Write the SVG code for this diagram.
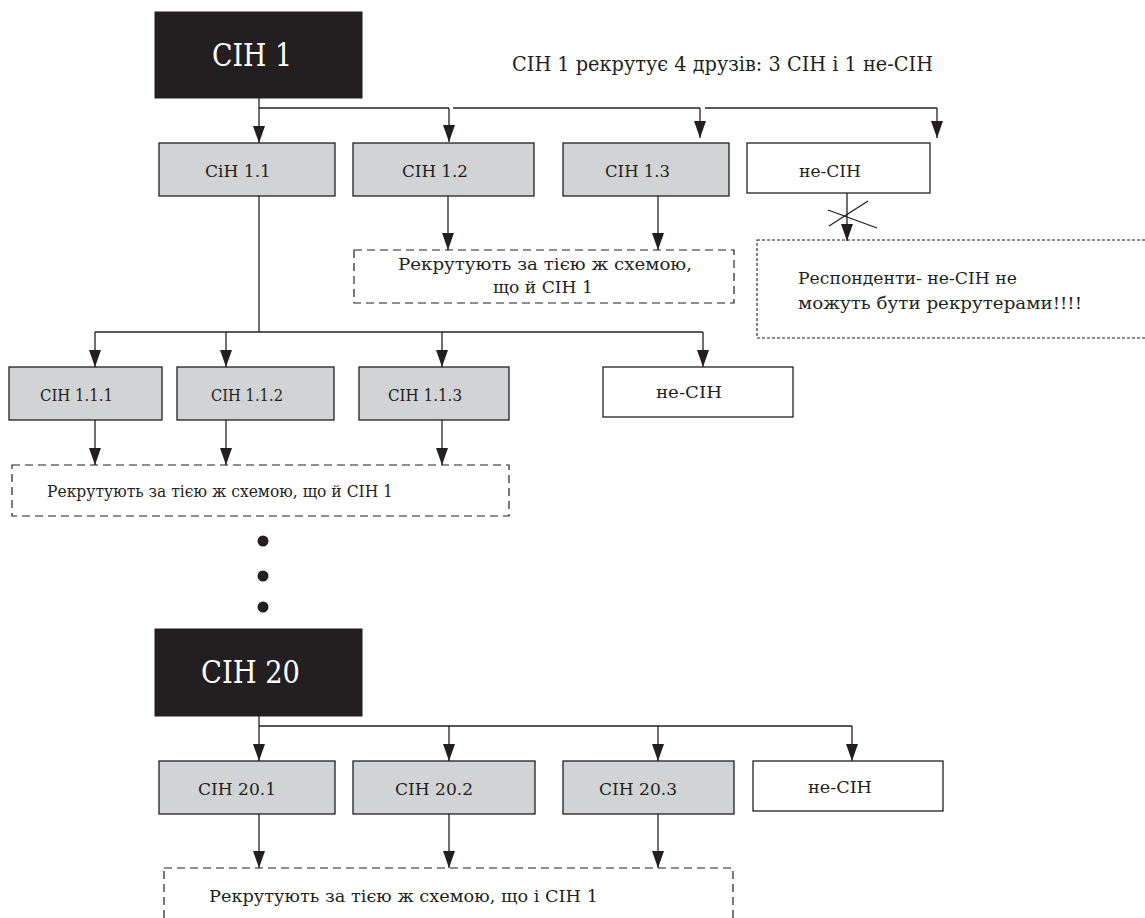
<svg xmlns="http://www.w3.org/2000/svg" width="1145" height="918" viewBox="0 0 1145 918">
<defs>
<marker id="ah" markerUnits="userSpaceOnUse" markerWidth="17" markerHeight="12" refX="17" refY="6" orient="auto">
<path d="M0,0 L17,6 L0,12 Z" fill="#231f20"/>
</marker>
<style>
text{font-family:"DejaVu Serif","Liberation Serif",serif;fill:#231f20}
.lbl{font-size:17.5px}
.big{font-size:32px;fill:#ffffff}
.note{font-size:21px}
.dark{fill:#231f20;stroke:#231f20}
.grey{fill:#d1d3d4;stroke:#231f20;stroke-width:1.3}
.white{fill:#ffffff;stroke:#231f20;stroke-width:1.3}
.dash{fill:none;stroke:#231f20;stroke-width:1.2;stroke-dasharray:8 5}
.dots{fill:none;stroke:#231f20;stroke-width:1.1;stroke-dasharray:3 2}
.c line,.c path{stroke:#231f20;stroke-width:1.3;fill:none}
</style>
</defs>
<rect width="1145" height="918" fill="#ffffff"/>

<g class="c" id="connectors">
<line x1="259" y1="98" x2="259" y2="108"/>
<line x1="259" y1="108" x2="449" y2="108"/>
<line x1="453" y1="108" x2="700" y2="108"/>
<line x1="705" y1="108" x2="937" y2="108"/>
<line x1="259" y1="108" x2="259" y2="143" marker-end="url(#ah)"/>
<line x1="449" y1="108" x2="449" y2="142" marker-end="url(#ah)"/>
<line x1="700" y1="108" x2="700" y2="138" marker-end="url(#ah)"/>
<line x1="937" y1="108" x2="937" y2="138" marker-end="url(#ah)"/>
<line x1="448" y1="196" x2="448" y2="250" marker-end="url(#ah)"/>
<line x1="658" y1="196" x2="658" y2="250" marker-end="url(#ah)"/>
<line x1="847" y1="193" x2="847" y2="241" marker-end="url(#ah)"/>
<line x1="828" y1="210" x2="877" y2="228"/>
<line x1="868" y1="201" x2="829" y2="226"/>
<line x1="259" y1="196" x2="259" y2="332"/>
<line x1="95" y1="332" x2="703" y2="332"/>
<line x1="95" y1="332" x2="95" y2="367" marker-end="url(#ah)"/>
<line x1="226" y1="332" x2="226" y2="367" marker-end="url(#ah)"/>
<line x1="442" y1="332" x2="442" y2="367" marker-end="url(#ah)"/>
<line x1="703" y1="332" x2="703" y2="367" marker-end="url(#ah)"/>
<line x1="95" y1="420" x2="95" y2="465" marker-end="url(#ah)"/>
<line x1="226" y1="420" x2="226" y2="465" marker-end="url(#ah)"/>
<line x1="442" y1="420" x2="442" y2="465" marker-end="url(#ah)"/>
<line x1="259" y1="716" x2="259" y2="726"/>
<line x1="259" y1="726" x2="852" y2="726"/>
<line x1="259" y1="726" x2="259" y2="761" marker-end="url(#ah)"/>
<line x1="449" y1="726" x2="449" y2="761" marker-end="url(#ah)"/>
<line x1="658" y1="726" x2="658" y2="761" marker-end="url(#ah)"/>
<line x1="852" y1="726" x2="852" y2="761" marker-end="url(#ah)"/>
<line x1="259" y1="814" x2="259" y2="868" marker-end="url(#ah)"/>
<line x1="449" y1="814" x2="449" y2="868" marker-end="url(#ah)"/>
<line x1="658" y1="814" x2="658" y2="868" marker-end="url(#ah)"/>
</g>

<g id="title-note">
<text class="note" x="512" y="71" textLength="421" lengthAdjust="spacingAndGlyphs">CIH 1 рекрутує 4 друзів: 3 CIH і 1 не-CIH</text>
</g>

<g id="n-cih1">
<rect class="dark" x="155" y="12" width="207" height="86"/>
<text class="big" x="212" y="66" textLength="80" lengthAdjust="spacingAndGlyphs">CIH 1</text>
</g>

<g id="n-1-1"><rect class="grey" x="159" y="143" width="176" height="53"/><text class="lbl" x="205" y="177" textLength="66" lengthAdjust="spacingAndGlyphs">CiH 1.1</text></g>
<g id="n-1-2"><rect class="grey" x="353" y="143" width="181" height="53"/><text class="lbl" x="402" y="177" textLength="66" lengthAdjust="spacingAndGlyphs">CIH 1.2</text></g>
<g id="n-1-3"><rect class="grey" x="563" y="143" width="166" height="53"/><text class="lbl" x="605" y="177" textLength="65" lengthAdjust="spacingAndGlyphs">CIH 1.3</text></g>
<g id="n-1-non"><rect class="white" x="747" y="143" width="183" height="50"/><text class="lbl" x="799" y="177" textLength="62" lengthAdjust="spacingAndGlyphs">не-CIH</text></g>

<g id="n-dash1">
<rect class="dash" x="354" y="250" width="380" height="53"/>
<text class="lbl" x="398" y="270" textLength="294" lengthAdjust="spacingAndGlyphs">Рекрутують за тією ж схемою,</text>
<text class="lbl" x="493" y="293" textLength="100" lengthAdjust="spacingAndGlyphs">що й CIH 1</text>
</g>

<g id="n-warning">
<rect class="dots" x="757" y="240" width="400" height="98"/>
<text class="lbl" x="798" y="284" textLength="219" lengthAdjust="spacingAndGlyphs">Респонденти- не-CIH  не</text>
<text class="lbl" x="798" y="309" textLength="284" lengthAdjust="spacingAndGlyphs">можуть бути рекрутерами!!!!</text>
</g>

<g id="n-1-1-1"><rect class="grey" x="9" y="367" width="153" height="53"/><text class="lbl" x="40" y="401" textLength="73" lengthAdjust="spacingAndGlyphs">CIH 1.1.1</text></g>
<g id="n-1-1-2"><rect class="grey" x="177" y="367" width="157" height="53"/><text class="lbl" x="211" y="401" textLength="72" lengthAdjust="spacingAndGlyphs">CIH 1.1.2</text></g>
<g id="n-1-1-3"><rect class="grey" x="359" y="367" width="150" height="53"/><text class="lbl" x="388" y="401" textLength="74" lengthAdjust="spacingAndGlyphs">CIH 1.1.3</text></g>
<g id="n-1-1-non"><rect class="white" x="603" y="367" width="190" height="50"/><text class="lbl" x="656" y="398" textLength="66" lengthAdjust="spacingAndGlyphs">не-CIH</text></g>

<g id="n-dash2">
<rect class="dash" x="12" y="465" width="497" height="51"/>
<text class="lbl" x="47" y="497" textLength="346" lengthAdjust="spacingAndGlyphs">Рекрутують за тією ж схемою, що й CIH 1</text>
</g>

<g id="ellipsis">
<circle cx="263" cy="541" r="5.5" fill="#231f20"/>
<circle cx="263" cy="576" r="5.5" fill="#231f20"/>
<circle cx="263" cy="607" r="5.5" fill="#231f20"/>
</g>

<g id="n-cih20">
<rect class="dark" x="155" y="629" width="207" height="87"/>
<text class="big" x="201" y="683" textLength="99" lengthAdjust="spacingAndGlyphs">CIH 20</text>
</g>

<g id="n-20-1"><rect class="grey" x="159" y="761" width="176" height="53"/><text class="lbl" x="198" y="795" textLength="78" lengthAdjust="spacingAndGlyphs">CIH 20.1</text></g>
<g id="n-20-2"><rect class="grey" x="353" y="761" width="182" height="53"/><text class="lbl" x="395" y="795" textLength="78" lengthAdjust="spacingAndGlyphs">CIH 20.2</text></g>
<g id="n-20-3"><rect class="grey" x="563" y="761" width="171" height="53"/><text class="lbl" x="599" y="795" textLength="78" lengthAdjust="spacingAndGlyphs">CIH 20.3</text></g>
<g id="n-20-non"><rect class="white" x="753" y="761" width="190" height="50"/><text class="lbl" x="808" y="793" textLength="64" lengthAdjust="spacingAndGlyphs">не-CIH</text></g>

<g id="n-dash3">
<rect class="dash" x="164" y="868" width="569" height="80"/>
<text class="lbl" x="209" y="902" textLength="389" lengthAdjust="spacingAndGlyphs">Рекрутують за тією ж схемою, що і CIH 1</text>
</g>
</svg>
